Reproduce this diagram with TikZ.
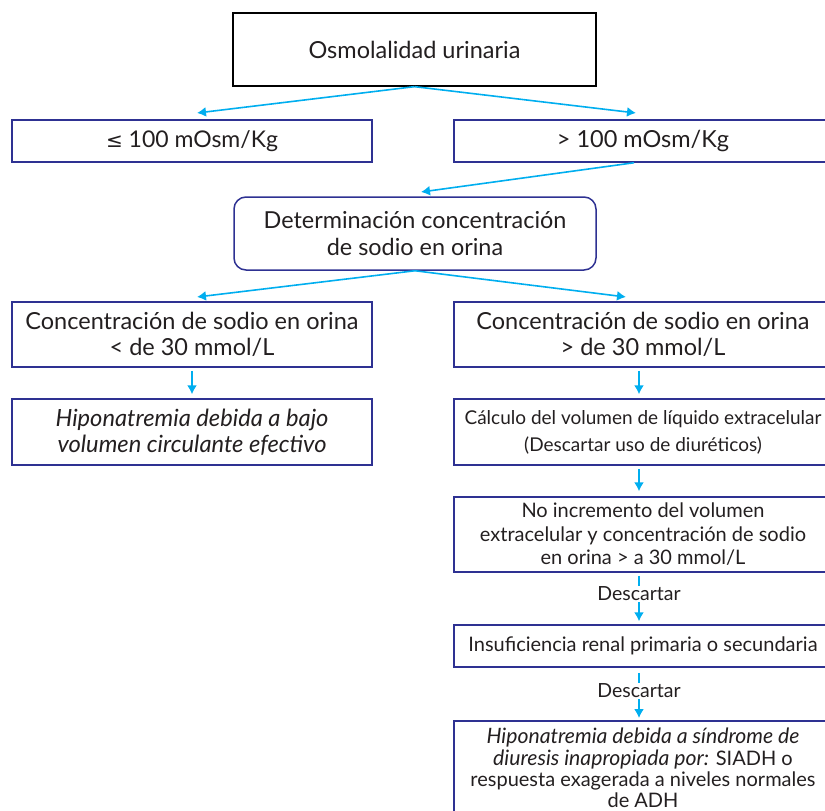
\documentclass[tikz,border=0pt]{standalone}
\usepackage{fontspec}
\setmainfont{Lato}
\newfontfamily\symf{DejaVu Sans}
\usetikzlibrary{arrows.meta}
\definecolor{navy}{HTML}{2E3192}
\definecolor{cyanarr}{HTML}{00AEEF}
\definecolor{txt}{HTML}{231F20}
\tikzset{
  box/.style={draw=navy, line width=1.5pt, inner sep=0pt, align=center, text=txt},
  arr/.style={draw=cyanarr, line width=1.6pt, -{Latex[length=9pt,width=10pt]}},
  lbl/.style={fill=white, inner sep=1pt, text=txt, font=\fontsize{19.5}{21}\selectfont}
}
\begin{document}
\begin{tikzpicture}[x=1pt,y=1pt]
\useasboundingbox (0,0) rectangle (825,-811);
% boxes
\node[box, draw=black, line width=1.3pt, minimum width=363pt, minimum height=73pt,
  font=\fontsize{23.5}{27}\selectfont] (top) at (414.5,-49.5) {Osmolalidad urinaria};
\node[box, minimum width=360pt, minimum height=42pt,
  font=\fontsize{23}{26}\selectfont] (le1) at (192,-141) {{\symf\fontsize{20}{26}\selectfont ≤} 100 mOsm/Kg};
\node[box, minimum width=378pt, minimum height=42pt,
  font=\fontsize{23.5}{26}\selectfont] (ri1) at (643,-141) {> 100 mOsm/Kg};
\node[box, rounded corners=12pt, minimum width=362pt, minimum height=73pt,
  font=\fontsize{23.4}{27}\selectfont] (det) at (415,-233.5) {Determinación concentración\\de sodio en orina};
\node[box, minimum width=360pt, minimum height=65pt,
  font=\fontsize{23.5}{26}\selectfont] (le2) at (192,-334.5) {Concentración de sodio en orina\\< de 30 mmol/L};
\node[box, minimum width=378pt, minimum height=65pt,
  font=\fontsize{23.5}{26}\selectfont] (ri2) at (643,-334.5) {Concentración de sodio en orina\\> de 30 mmol/L};
\node[box, minimum width=360pt, minimum height=66pt,
  font=\itshape\fontsize{23.7}{26}\selectfont] (le3) at (192,-432) {Hiponatremia debida a bajo\\volumen circulante efectivo};
\node[box, minimum width=378pt, minimum height=66pt,
  font=\fontsize{19}{27}\selectfont] (ri3) at (643,-432) {Cálculo del volumen de líquido extracelular\\(Descartar uso de diuréticos)};
\node[box, minimum width=378pt, minimum height=75pt,
  font=\fontsize{20}{23.5}\selectfont] (ri4) at (643,-534.5) {No incremento del volumen\\extracelular y concentración de sodio\\en orina > a 30 mmol/L};
\node[box, minimum width=378pt, minimum height=42pt,
  font=\fontsize{20}{23}\selectfont] (ri5) at (643,-646) {Insuficiencia renal primaria o secundaria};
% last box: frame runs off the bottom edge, text kept inside the page
\draw[navy, line width=1.5pt] (454,-830) rectangle (832,-721);
\node[align=center, text=txt, inner sep=0pt,
  font=\fontsize{20}{21.3}\selectfont] (ri6) at (643,-768) {{\itshape\fontsize{21.2}{21.3}\selectfont Hiponatremia debida a síndrome de}\\{\itshape\fontsize{21.2}{21.3}\selectfont diuresis inapropiada por:} SIADH o\\respuesta exagerada a niveles normales\\de ADH};
% connector end points
\coordinate (a1) at (197,-113);
\coordinate (a2) at (636,-113);
\coordinate (a3) at (421,-192);
\coordinate (a4) at (197,-297);
\coordinate (a5) at (626,-297);
\coordinate (a6) at (639,-718);
% connectors
\draw[arr] (top.south) -- (a1);
\draw[arr] (top.south) -- (a2);
\draw[arr] ([xshift=-9pt]ri1.south) -- (a3);
\draw[arr] (det.south) -- (a4);
\draw[arr] (det.south) -- (a5);
\draw[arr] ([yshift=-3pt]le2.south) -- ([yshift=4pt]le3.north);
\draw[arr] ([xshift=-4pt,yshift=-3pt]ri2.south) -- ([xshift=-4pt,yshift=4pt]ri3.north);
\draw[arr] ([xshift=-4pt,yshift=-3pt]ri3.south) -- ([xshift=-4pt,yshift=5pt]ri4.north);
\draw[arr] ([xshift=-4pt,yshift=-3pt]ri4.south) -- node[lbl, pos=0.4] {Descartar} ([xshift=-4pt,yshift=3pt]ri5.north);
\draw[arr] ([xshift=-4pt,yshift=-5pt]ri5.south) -- node[lbl, pos=0.4] {Descartar} (a6);
\end{tikzpicture}
\end{document}
